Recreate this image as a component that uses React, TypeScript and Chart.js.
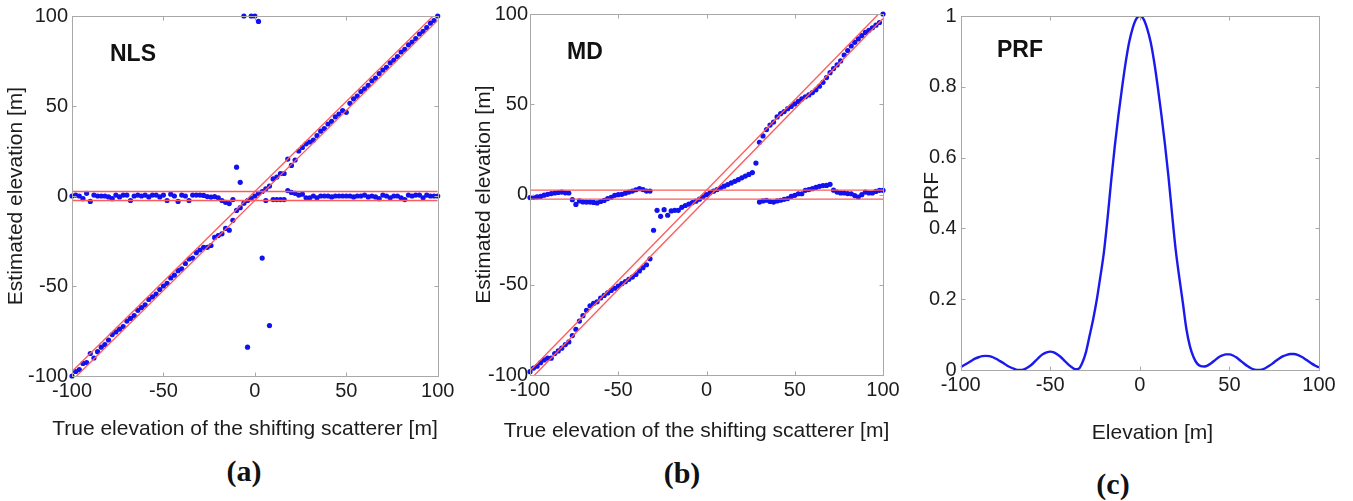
import React, { useEffect, useRef } from "react";
import { Chart, registerables } from "chart.js";

Chart.register(...registerables);

// ---------- data ----------
const ELEVATION = [
  -100, -98, -96, -94, -92, -90, -88, -86, -84, -82,
  -80, -78, -76, -74, -72, -70, -68, -66, -64, -62,
  -60, -58, -56, -54, -52, -50, -48, -46, -44, -42,
  -40, -38, -36, -34, -32, -30, -28, -26, -24, -22,
  -20, -18, -16, -14, -12, -10, -8, -6, -4, -2,
  0,
  2, 4, 6, 8, 10, 12, 14, 16, 18, 20,
  22, 24, 26, 28, 30, 32, 34, 36, 38, 40,
  42, 44, 46, 48, 50, 52, 54, 56, 58, 60,
  62, 64, 66, 68, 70, 72, 74, 76, 78, 80,
  82, 84, 86, 88, 90, 92, 94, 96, 98, 100,
];

// (a) NLS estimates
const NLS_SHIFTING = [
  -100, -97.5, -96.5, -93, -92.5, -87.5, -90, -86.5, -84, -82.5,
  -80, -77, -75.5, -74, -72.5, -69.5, -68, -66.5, -63.5, -62,
  -60.5, -57.5, -56, -54.5, -52, -50, -48.5, -45.5, -44, -41.5,
  -40.5, -37.5, -35, -34.5, -31.5, -30, -28.5, -28.5, -27.5, -23,
  -22, -21, -18, -19, -13.5, -8, -6.5, -4, -2.5, -1.5,
  0,
  1.5, 2.5, 4, 5.5, 9.5, 10.5, 12.5, 12.5, 20.5, 17,
  20, 25, 27, 29, 30, 31, 33.5, 36, 37.5, 40,
  41.5, 44, 45.5, 47.5, 46.5, 51.5, 54, 55.5, 58, 59.5,
  61.5, 64, 65.5, 68, 70, 71.5, 74, 75.5, 77.5, 80,
  81.5, 84, 85.5, 87.5, 90, 91.5, 93.5, 96, 97.5, 100,
];
const NLS_FIXED = [
  0, 0.5, 0, -1.5, 1.5, -3, 0.5, 0, 0, 0,
  -0.5, -1.5, 0.5, -0.5, 0.5, 0.5, -2.5, 0, 0.5, 0,
  0.5, -0.5, 0.5, 0.5, -0.5, 0.5, -2.5, 1, 0, -3,
  0.5, 0, -2.5, 0.5, 0.5, 0.5, 0.3, -0.3, -0.6, -0.3,
  -1, -2.5, -3.5, -4.2, -2, 16, 7.6, 100, -84, 100,
  100,
  97, -34.5, -2.5, -72, -2, -2, -2, -2, 3, 2,
  1.5, 0.5, 1, -1, -1, 0, -1, 0, 0, 0,
  -0.5, 0, 0, 0, 0, 0, -0.5, 0, 0, 0.5,
  -0.5, 0, -0.5, -1.5, 0.5, 0, -1, 0, 0, -1,
  -2, 0.5, 0, 0.5, 0.5, -1, 0.5, 0, 0, 0,
];

// (b) MD estimates
const MD_SHIFTING = [
  -98, -96, -95, -93, -91.5, -90.5, -90.5, -88, -86.5, -85,
  -83, -81.5, -78, -74.5, -70, -67, -64, -61.5, -60.2, -59.3,
  -57.2, -55.8, -54.4, -53, -51.8, -50.6, -49.3, -48.2, -46.9, -45.6,
  -44.2, -42.2, -40.4, -38.8, -35.5, -19.7, -8.7, -12, -8.3, -11.4,
  -9, -8.7, -8.7, -7, -6, -5.2, -4.4, -3.6, -2.5, -1.2,
  0,
  1, 1.9, 2.8, 3.8, 4.7, 5.6, 6.5, 7.4, 8.3, 9.3,
  10.3, 11.2, 12.2, 17.5, 29, 32.5, 36, 38.5, 40.2, 43,
  44.8, 46, 47.6, 48.8, 50.2, 51.6, 53, 54.2, 55.2, 56.5,
  58, 60, 62.2, 64.8, 67.5, 69.8, 71.8, 74, 77.3, 79.8,
  82.3, 84.3, 86.2, 88, 89.8, 91, 92.4, 93.8, 95.3, 100,
];
const MD_FIXED = [
  -1.6, -1.5, -1.2, -1, -0.3, 0.2, 0.6, 0.9, 1.2, 1.4,
  1, 0.9, -2.8, -5.4, -3.5, -4, -4.1, -4.1, -4.3, -4.6,
  -3.8, -3.2, -2.2, -1.5, -0.4, 0, 0.2, 0.8, 1.4, 2,
  2.7, 3.3, 2.8, 2, 2, null, null, null, null, null,
  null, null, null, null, null, null, null, null, null, null,
  null,
  null, null, null, null, null, null, null, null, null, null,
  null, null, null, null, -4.1, -3.5, -3.1, -3.8, -4.1, -3.5,
  -3.1, -2.6, -2.2, -1, -0.4, 0.5, 0.5, 2.4, 2.8, 3.3,
  4, 4.6, 5, 5.1, 5.7, 2.5, 1.4, 0.9, 0.9, 0.6,
  0.5, -0.5, -1.3, 0, 1.4, 0.9, 0.9, 1.8, 2.4, 2.4,
];

// (c) point response function
const PRF = [
  0.008, 0.014, 0.02, 0.026, 0.032, 0.036, 0.039, 0.04, 0.039, 0.036,
  0.031, 0.025, 0.019, 0.012, 0.007, 0.003, 0.0, 0.0, 0.003, 0.009,
  0.017, 0.027, 0.037, 0.045, 0.05, 0.052, 0.05, 0.044, 0.036, 0.026,
  0.016, 0.008, 0.002, 0.004, 0.022, 0.052, 0.098, 0.145, 0.2, 0.265,
  0.335, 0.43, 0.535, 0.632, 0.718, 0.795, 0.866, 0.925, 0.966, 0.992,
  1.0,
  0.992, 0.966, 0.927, 0.87, 0.8, 0.722, 0.638, 0.545, 0.44, 0.34,
  0.262, 0.19, 0.115, 0.066, 0.036, 0.018, 0.011, 0.01, 0.013, 0.02,
  0.028, 0.036, 0.041, 0.044, 0.044, 0.041, 0.035, 0.027, 0.019, 0.011,
  0.005, 0.001, 0.0, 0.001, 0.005, 0.011, 0.018, 0.026, 0.033, 0.039,
  0.043, 0.045, 0.045, 0.043, 0.038, 0.032, 0.025, 0.018, 0.012, 0.007,
];

const AXIS_MIN = -100;
const AXIS_MAX = 100;
const BAND = 2.5; // half-width of the red tolerance bands [m]
const ELEV_TICKS = [-100, -50, 0, 50, 100];
const PRF_TICKS = [0, 0.2, 0.4, 0.6, 0.8, 1];

// ---------- styles ----------
const FONT = "Arial, 'Liberation Sans', Helvetica, sans-serif";
const SERIF = "'Times New Roman', 'Liberation Serif', serif";
const TEXT = "#1c1c1c";
const FRAME = "#a8a8a8";
const DOT = "#1212f0";
const RED = "#ff5a5a";
const CANVAS_H = 450;

const framePlugin = {
  id: "matlabFrame",
  afterDraw(chart: any) {
    const { ctx, chartArea: a, scales } = chart;
    const l = Math.round(a.left) + 0.5;
    const t = Math.round(a.top) + 0.5;
    const r = Math.round(a.right) + 0.5;
    const b = Math.round(a.bottom) + 0.5;
    ctx.save();
    ctx.strokeStyle = FRAME;
    ctx.lineWidth = 1;
    ctx.strokeRect(l, t, r - l, b - t);
    const len = 4;
    ctx.beginPath();
    scales.x.ticks.forEach((tk: any) => {
      const p = Math.round(scales.x.getPixelForValue(tk.value)) + 0.5;
      ctx.moveTo(p, b);
      ctx.lineTo(p, b - len);
      ctx.moveTo(p, t);
      ctx.lineTo(p, t + len);
    });
    scales.y.ticks.forEach((tk: any) => {
      const p = Math.round(scales.y.getPixelForValue(tk.value)) + 0.5;
      ctx.moveTo(l, p);
      ctx.lineTo(l + len, p);
      ctx.moveTo(r, p);
      ctx.lineTo(r - len, p);
    });
    ctx.stroke();
    ctx.restore();
  },
};

type Layout = {
  left: number;
  width: number;
  padTop: number;
  padRight: number;
  yWidth: number;
  xHeight: number;
  yTitlePad: number;
  yTickPad: number;
  xTickPad: number;
};

function points(xs: number[], ys: (number | null)[]) {
  const out: { x: number; y: number }[] = [];
  xs.forEach((x, i) => {
    const y = ys[i];
    if (y !== null && y !== undefined) out.push({ x, y });
  });
  return out;
}

function axes(L: Layout, yTitle: string, yMin: number, yMax: number, xTicks: number[], yTicks: number[]) {
  const tickFont = { family: FONT, size: 20 };
  const titleFont = { family: FONT, size: 21 };
  return {
    x: {
      type: "linear",
      min: AXIS_MIN,
      max: AXIS_MAX,
      grid: { display: false, drawTicks: false },
      border: { display: false },
      afterBuildTicks: (s: any) => {
        s.ticks = xTicks.map((v) => ({ value: v }));
      },
      ticks: { font: tickFont, color: TEXT, padding: L.xTickPad, maxRotation: 0, autoSkip: false, callback: (v: any) => String(v) },
      title: { display: false },
      afterFit: (s: any) => {
        s.height = L.xHeight;
      },
    },
    y: {
      type: "linear",
      min: yMin,
      max: yMax,
      grid: { display: false, drawTicks: false },
      border: { display: false },
      afterBuildTicks: (s: any) => {
        s.ticks = yTicks.map((v) => ({ value: v }));
      },
      ticks: { font: tickFont, color: TEXT, padding: L.yTickPad, autoSkip: false, callback: (v: any) => String(v) },
      title: { display: true, text: yTitle, font: titleFont, color: TEXT, padding: { top: L.yTitlePad, bottom: 0 } },
      afterFit: (s: any) => {
        s.width = L.yWidth;
      },
    },
  };
}

function bandLines() {
  const line = (data: { x: number; y: number }[]) => ({
    type: "line",
    data,
    showLine: true,
    borderColor: RED,
    borderWidth: 1.3,
    pointRadius: 0,
    fill: false,
  });
  return [
    line([{ x: AXIS_MIN, y: BAND }, { x: AXIS_MAX, y: BAND }]),
    line([{ x: AXIS_MIN, y: -BAND }, { x: AXIS_MAX, y: -BAND }]),
    line([{ x: AXIS_MIN, y: AXIS_MIN + BAND }, { x: AXIS_MAX - BAND, y: AXIS_MAX }]),
    line([{ x: AXIS_MIN + BAND, y: AXIS_MIN }, { x: AXIS_MAX, y: AXIS_MAX - BAND }]),
  ];
}

function scatterConfig(L: Layout, shifting: (number | null)[], fixed: (number | null)[]) {
  const dots = (ys: (number | null)[]) => ({
    type: "scatter",
    data: points(ELEVATION, ys),
    backgroundColor: DOT,
    borderWidth: 0,
    pointRadius: 2.6,
    showLine: false,
    clip: false,
  });
  return {
    type: "scatter",
    data: { datasets: [...bandLines(), dots(shifting), dots(fixed)] },
    options: {
      responsive: false,
      animation: false,
      events: [],
      layout: { padding: { top: L.padTop, right: L.padRight, left: 0, bottom: 0 } },
      plugins: { legend: { display: false }, tooltip: { enabled: false } },
      scales: axes(L, "Estimated elevation [m]", AXIS_MIN, AXIS_MAX, ELEV_TICKS, ELEV_TICKS),
    },
    plugins: [framePlugin],
  };
}

function prfConfig(L: Layout) {
  return {
    type: "line",
    data: {
      datasets: [
        {
          data: points(ELEVATION, PRF),
          borderColor: "#1a1aee",
          borderWidth: 2.4,
          pointRadius: 0,
          cubicInterpolationMode: "monotone",
          fill: false,
        },
      ],
    },
    options: {
      responsive: false,
      animation: false,
      events: [],
      layout: { padding: { top: L.padTop, right: L.padRight, left: 0, bottom: 0 } },
      plugins: { legend: { display: false }, tooltip: { enabled: false } },
      scales: axes(L, "PRF", 0, 1, ELEV_TICKS, PRF_TICKS),
    },
    plugins: [framePlugin],
  };
}

function Panel({ layout, make }: { layout: Layout; make: (L: Layout) => any }) {
  const ref = useRef<HTMLCanvasElement>(null);
  useEffect(() => {
    const chart = new Chart(ref.current as HTMLCanvasElement, make(layout));
    return () => chart.destroy();
  }, []);
  return (
    <canvas
      ref={ref}
      width={layout.width}
      height={CANVAS_H}
      style={{ position: "absolute", left: layout.left, top: 0, width: layout.width, height: CANVAS_H, display: "block" }}
    />
  );
}

const LAYOUT_A: Layout = { left: 0, width: 460, padTop: 15.5, padRight: 22.3, yWidth: 72, xHeight: 74, yTitlePad: 3.5, yTickPad: 4, xTickPad: 3 };
const LAYOUT_B: Layout = { left: 460, width: 450, padTop: 13.3, padRight: 27, yWidth: 70, xHeight: 74.7, yTitlePad: 11.4, yTickPad: 2, xTickPad: 3 };
const LAYOUT_C: Layout = { left: 905, width: 448, padTop: 13.3, padRight: 34, yWidth: 55.7, xHeight: 80, yTitlePad: 14.4, yTickPad: 4, xTickPad: 3 };

function Tag({ text, left, top }: { text: string; left: number; top: number }) {
  return (
    <div style={{ position: "absolute", left, top, font: `bold 23px ${FONT}`, lineHeight: "23px", color: "#111", whiteSpace: "nowrap" }}>
      {text}
    </div>
  );
}

function AxisTitle({ text, cx, top }: { text: string; cx: number; top: number }) {
  return (
    <div
      style={{
        position: "absolute",
        left: cx - 250,
        width: 500,
        top,
        textAlign: "center",
        font: `21px ${FONT}`,
        lineHeight: "24px",
        color: TEXT,
        whiteSpace: "nowrap",
      }}
    >
      {text}
    </div>
  );
}

function Caption({ text, cx, top }: { text: string; cx: number; top: number }) {
  return (
    <div
      style={{
        position: "absolute",
        left: cx - 50,
        width: 100,
        top,
        textAlign: "center",
        font: `bold 30px ${SERIF}`,
        lineHeight: "30px",
        color: "#111",
      }}
    >
      {text}
    </div>
  );
}

export default function App() {
  return (
    <div style={{ position: "absolute", left: 0, top: 0, width: 1353, height: 501, background: "#fff", overflow: "hidden" }}>
      <Panel layout={LAYOUT_A} make={(L) => scatterConfig(L, NLS_SHIFTING, NLS_FIXED)} />
      <Panel layout={LAYOUT_B} make={(L) => scatterConfig(L, MD_SHIFTING, MD_FIXED)} />
      <Panel layout={LAYOUT_C} make={(L) => prfConfig(L)} />
      <Tag text="NLS" left={110} top={42} />
      <Tag text="MD" left={567} top={39.5} />
      <Tag text="PRF" left={997} top={38} />
      <AxisTitle text="True elevation of the shifting scatterer [m]" cx={245} top={416} />
      <AxisTitle text="True elevation of the shifting scatterer [m]" cx={696.5} top={418} />
      <AxisTitle text="Elevation [m]" cx={1152.5} top={420} />
      <Caption text="(a)" cx={244} top={455.5} />
      <Caption text="(b)" cx={682} top={457.5} />
      <Caption text="(c)" cx={1113} top={468.5} />
    </div>
  );
}
